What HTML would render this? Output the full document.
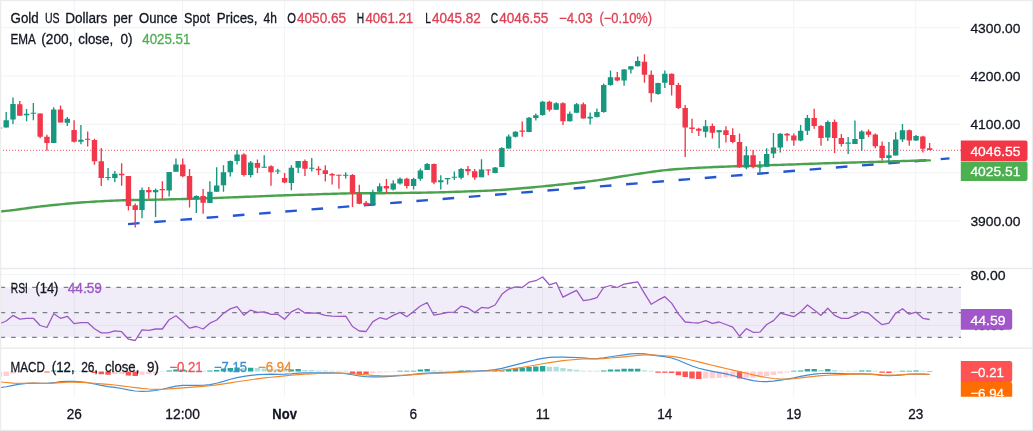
<!DOCTYPE html>
<html lang="en"><head><meta charset="utf-8"><title>Gold 4h chart</title>
<style>html,body{margin:0;padding:0;background:#fff}body{width:1033px;height:431px;overflow:hidden}svg{display:block}text{white-space:pre}</style></head>
<body>
<svg width="1033" height="431" viewBox="0 0 1033 431" font-family='"Liberation Sans", sans-serif'>
<rect x="0" y="0" width="1033" height="431" fill="#ffffff"/>
<path d="M74.3 1V396.5M182.6 1V396.5M284.6 1V396.5M413.4 1V396.5M542.7 1V396.5M664.8 1V396.5M793.7 1V396.5M915.7 1V396.5M1 27.6H960.5M1 76H960.5M1 124.3H960.5M1 172.7H960.5M1 221.1H960.5M1 274.6H960.5M1 325.4H960.5" stroke="#f2f3f6" stroke-width="1" fill="none"/>
<rect x="0" y="287.3" width="961" height="50" fill="#7e57c2" fill-opacity="0.11"/>
<path d="M0.5 287.3H961M0.5 312.6H961M0.5 337.3H961" stroke="#7c7f8a" stroke-width="1.2" stroke-dasharray="4.65 5.88" fill="none"/>
<path d="M0 268.5H1033M0 348.1H1033" stroke="#e8e9ee" stroke-width="1.4" fill="none"/>
<path d="M128 224.1L949.5 158.4" stroke="#2557d2" stroke-width="2.4" stroke-dasharray="11.6 14.7" fill="none"/>
<path d="M0 211.42L3 211.19L6 210.92L9 210.62L12 210.27L15 209.88L18 209.46L21 209.04L24 208.62L27 208.2L30 207.8L33 207.41L36 207.03L39 206.67L42 206.31L45 205.97L48 205.63L51 205.31L54 205L57 204.7L60 204.4L63 204.1L66 203.81L69 203.53L72 203.27L75 203.01L78 202.77L81 202.53L84 202.31L87 202.1L90 201.9L93 201.72L96 201.54L99 201.36L102 201.18L105 201.02L108 200.87L111 200.73L114 200.6L117 200.48L120 200.37L123 200.28L126 200.2L129 200.13L132 200.07L135 200.02L138 199.98L141 199.93L144 199.88L147 199.83L150 199.78L153 199.72L156 199.66L159 199.6L162 199.53L165 199.46L168 199.39L171 199.32L174 199.24L177 199.16L180 199.08L183 199.01L186 198.93L189 198.84L192 198.76L195 198.67L198 198.58L201 198.49L204 198.4L207 198.3L210 198.19L213 198.09L216 197.98L219 197.87L222 197.76L225 197.64L228 197.53L231 197.41L234 197.29L237 197.18L240 197.06L243 196.94L246 196.82L249 196.71L252 196.59L255 196.47L258 196.35L261 196.24L264 196.12L267 196L270 195.88L273 195.77L276 195.65L279 195.54L282 195.43L285 195.32L288 195.22L291 195.11L294 195.01L297 194.91L300 194.81L303 194.72L306 194.62L309 194.53L312 194.44L315 194.34L318 194.25L321 194.16L324 194.06L327 193.97L330 193.88L333 193.78L336 193.69L339 193.61L342 193.53L345 193.46L348 193.4L351 193.35L354 193.31L357 193.29L360 193.26L363 193.25L366 193.25L369 193.25L372 193.25L375 193.24L378 193.23L381 193.22L384 193.19L387 193.17L390 193.13L393 193.1L396 193.05L399 193.01L402 192.96L405 192.92L408 192.87L411 192.82L414 192.78L417 192.73L420 192.68L423 192.64L426 192.59L429 192.53L432 192.47L435 192.41L438 192.34L441 192.26L444 192.18L447 192.09L450 192L453 191.9L456 191.8L459 191.7L462 191.6L465 191.49L468 191.39L471 191.29L474 191.19L477 191.08L480 190.98L483 190.87L486 190.75L489 190.62L492 190.47L495 190.31L498 190.13L501 189.94L504 189.74L507 189.52L510 189.29L513 189.05L516 188.79L519 188.54L522 188.28L525 188.02L528 187.76L531 187.48L534 187.21L537 186.92L540 186.64L543 186.34L546 186.05L549 185.74L552 185.44L555 185.12L558 184.81L561 184.5L564 184.19L567 183.88L570 183.56L573 183.24L576 182.92L579 182.59L582 182.26L585 181.92L588 181.55L591 181.17L594 180.77L597 180.34L600 179.9L603 179.44L606 178.97L609 178.49L612 178L615 177.51L618 177.01L621 176.52L624 176.04L627 175.56L630 175.1L633 174.63L636 174.18L639 173.73L642 173.27L645 172.83L648 172.39L651 171.96L654 171.55L657 171.15L660 170.78L663 170.43L666 170.11L669 169.81L672 169.53L675 169.28L678 169.05L681 168.83L684 168.64L687 168.45L690 168.28L693 168.1L696 167.94L699 167.78L702 167.63L705 167.48L708 167.33L711 167.19L714 167.06L717 166.93L720 166.82L723 166.71L726 166.61L729 166.51L732 166.41L735 166.32L738 166.23L741 166.15L744 166.07L747 165.98L750 165.88L753 165.79L756 165.68L759 165.58L762 165.48L765 165.38L768 165.27L771 165.17L774 165.07L777 164.97L780 164.86L783 164.76L786 164.66L789 164.55L792 164.45L795 164.35L798 164.24L801 164.14L804 164.03L807 163.93L810 163.82L813 163.71L816 163.61L819 163.5L822 163.4L825 163.3L828 163.2L831 163.11L834 163.02L837 162.94L840 162.85L843 162.78L846 162.7L849 162.62L852 162.55L855 162.47L858 162.39L861 162.31L864 162.23L867 162.14L870 162.05L873 161.96L876 161.87L879 161.78L882 161.68L885 161.59L888 161.5L891 161.41L894 161.31L897 161.22L900 161.13L903 161.03L906 160.94L909 160.85L912 160.75L915 160.66L918 160.58L921 160.5L924 160.43L927 160.38L929.9 160.33" stroke="#4aa24e" stroke-width="2.4" fill="none" stroke-linejoin="round" stroke-linecap="round"/>
<path d="M-0.59 127V129M6.2 112V127.4M12.99 97.4V124.1M26.57 108.9V121.2M33.36 103V120.2M53.73 107.2V143M67.31 116.9V126M80.89 125V144.2M108.05 167.9V180.2M114.84 170.9V182.2M142 187.6V218.2M155.58 188.4V216.9M169.16 172V196.4M175.95 158.4V171.8M196.32 195.2V213M209.9 181.3V203M216.69 167.3V191.7M223.48 165.3V191.7M230.27 160.5V176.6M237.06 150.1V164.4M250.64 161V177.6M264.22 155.2V167.7M277.8 168.7V174.1M291.38 165.3V190.3M298.17 160.9V173.1M311.75 157.9V171.6M345.7 172.2V178.6M372.86 189.7V206.3M379.65 183.3V191.7M393.23 180.3V190.4M400.02 177.4V184.6M413.6 177.8V189.5M420.39 168.6V180.7M427.18 163.1V170M440.76 175.2V189.5M447.55 178.1V184.6M454.34 171.5V180.1M461.13 168V179.3M481.5 159.2V177.2M495.08 167V173.3M501.87 147.2V167M508.66 134.5V148.5M515.45 131.2V137.5M529.03 117.1V132.2M535.82 113.4V120.5M542.61 101.1V115.8M556.19 102.2V109.8M569.77 111.4V121.5M576.56 103V112.8M590.14 112.4V124.5M596.93 108.5V117.6M603.72 83.5V112.8M610.51 70.5V85.7M624.09 69.1V85.7M630.88 66.2V73.4M637.67 56.4V66.6M658.04 82.7V94.8M664.83 70.5V88M705.57 120.1V137.4M719.15 130.2V148.3M746.31 146.2V169.2M759.89 160.9V173.7M766.68 148.3V166.7M773.47 133.1V158.1M780.26 133.1V152.6M800.63 125V141.3M807.42 115V135.1M827.79 120.5V140.9M848.16 137V154M854.95 120.5V143.9M861.74 130.2V151.1M888.9 141.9V162.8M895.69 132.2V155.6M902.48 124V141.9M916.06 135.1V140.9" stroke="#17977f" stroke-width="1.35" fill="none"/>
<path d="M19.78 101.1V115.7M40.15 113.4V138.3M46.94 134.8V150.8M60.52 105.6V122.6M74.1 120.2V142.6M87.68 131.5V146.5M94.47 138.7V164.7M101.26 148V186M121.63 163.3V185.7M128.42 175.9V210.4M135.21 203.6V227.4M148.79 187V198.7M162.37 181.2V198.7M182.74 158.4V177.3M189.53 169.1V207.5M203.11 189.1V213.7M243.85 153.3V176.6M257.43 159.5V173.1M271.01 165.3V185.8M284.59 173.1V183.3M304.96 159.5V176.1M318.54 166.3V175.1M325.33 165.3V181.5M332.12 173.1V184.4M338.91 174.7V188.7M352.49 174.1V206.9M359.28 184.8V204.3M366.07 201V205.9M386.44 179V193M406.81 177.8V188.5M433.97 163.5V184.2M467.92 166.1V175.2M474.71 169V179.7M488.29 169.6V175.2M522.24 121.6V136.8M549.4 100.7V111.4M562.98 102.2V125M583.35 102.6V118.6M617.3 72V81.2M644.46 54.3V82.7M651.25 70.5V102.2M671.62 73.4V95.4M678.41 82.7V108.9M685.2 105V156.9M691.99 118.8V133M698.78 127.7V136.1M712.36 123.4V138.6M725.94 126.3V142.5M732.73 128.3V143.3M739.52 133.5V167.8M753.1 150.1V168.2M787.05 133.1V140.9M793.84 133.5V145.8M814.21 108.8V128.8M821 125V145.8M834.58 119.5V153M841.37 134.1V146.4M868.53 129.6V137M875.32 133.5V148.3M882.11 141.5V160.4M909.27 129.6V145.8M922.85 135.7V152.6M929.64 142.9V150.3" stroke="#f0384a" stroke-width="1.35" fill="none"/>
<path d="M-3.29 127.4h5.4V128.6h-5.4zM3.5 120.2h5.4V127.4h-5.4zM10.29 104h5.4V119.6h-5.4zM23.87 113.8h5.4V115.3h-5.4zM30.66 112.8h5.4V113.8h-5.4zM51.03 109.5h5.4V143h-5.4zM64.61 118.8h5.4V122.7h-5.4zM78.19 139.7h5.4V141.7h-5.4zM105.35 176.9h5.4V177.9h-5.4zM112.14 173.8h5.4V177.9h-5.4zM139.3 190h5.4V210h-5.4zM152.88 190h5.4V192.3h-5.4zM166.46 172h5.4V190.5h-5.4zM173.25 164.6h5.4V171.8h-5.4zM193.62 196.1h5.4V199.6h-5.4zM207.2 191.7h5.4V203h-5.4zM213.99 185.4h5.4V191.7h-5.4zM220.78 172.2h5.4V185.2h-5.4zM227.57 161h5.4V172.2h-5.4zM234.36 154.6h5.4V161h-5.4zM247.94 162.4h5.4V175.1h-5.4zM261.52 166.7h5.4V167.7h-5.4zM275.1 170.6h5.4V171.6h-5.4zM288.68 167.7h5.4V182.9h-5.4zM295.47 160.9h5.4V167.7h-5.4zM309.05 167.85h5.4V168.85h-5.4zM343 174.7h5.4V175.7h-5.4zM370.16 192.2h5.4V204.3h-5.4zM376.95 186.2h5.4V191.7h-5.4zM390.53 183.6h5.4V189.5h-5.4zM397.32 178.7h5.4V183.6h-5.4zM410.9 179.1h5.4V185.9h-5.4zM417.69 170.4h5.4V178.7h-5.4zM424.48 164.1h5.4V170h-5.4zM438.06 180.3h5.4V182.2h-5.4zM444.85 178.1h5.4V179.3h-5.4zM451.64 176.8h5.4V177.8h-5.4zM458.43 169h5.4V177.8h-5.4zM478.8 169.6h5.4V177.2h-5.4zM492.38 167.4h5.4V172.9h-5.4zM499.17 148.1h5.4V167h-5.4zM505.96 136.4h5.4V148.5h-5.4zM512.75 131.7h5.4V136.8h-5.4zM526.33 117.8h5.4V132h-5.4zM533.12 115.2h5.4V118.1h-5.4zM539.91 101.7h5.4V114.9h-5.4zM553.49 103.2h5.4V109.8h-5.4zM567.07 113.7h5.4V121.2h-5.4zM573.86 104.2h5.4V112.8h-5.4zM587.44 116.7h5.4V118.6h-5.4zM594.23 112h5.4V116.9h-5.4zM601.02 85.1h5.4V112h-5.4zM607.81 77.3h5.4V85.1h-5.4zM621.39 69.5h5.4V80.6h-5.4zM628.18 66.2h5.4V69.5h-5.4zM634.97 61.1h5.4V66.2h-5.4zM655.34 83.1h5.4V93.9h-5.4zM662.13 73.8h5.4V82.7h-5.4zM702.87 126.3h5.4V131.8h-5.4zM716.45 130.2h5.4V132.2h-5.4zM743.61 155.2h5.4V167.6h-5.4zM757.19 166.5h5.4V167.5h-5.4zM763.98 154h5.4V166.7h-5.4zM770.77 147.4h5.4V153.6h-5.4zM777.56 133.7h5.4V147.4h-5.4zM797.93 130.8h5.4V140.5h-5.4zM804.72 118.1h5.4V130.8h-5.4zM825.09 122h5.4V137.6h-5.4zM845.46 142.5h5.4V143.7h-5.4zM852.25 139h5.4V143.9h-5.4zM859.04 131.6h5.4V139h-5.4zM886.2 155.2h5.4V157.9h-5.4zM892.99 139.4h5.4V155.6h-5.4zM899.78 130.2h5.4V139.4h-5.4zM913.36 136.1h5.4V140.4h-5.4z" fill="#17977f"/>
<path d="M17.08 104.3h5.4V115.7h-5.4zM37.45 113.4h5.4V136.8h-5.4zM44.24 136.8h5.4V143h-5.4zM57.82 109.5h5.4V122.6h-5.4zM71.4 130h5.4V141.7h-5.4zM84.98 138.7h5.4V139.7h-5.4zM91.77 140.1h5.4V161.3h-5.4zM98.56 161.3h5.4V177.9h-5.4zM118.93 173.8h5.4V175.3h-5.4zM125.72 175.9h5.4V206.1h-5.4zM132.51 205.2h5.4V210h-5.4zM146.09 190h5.4V192.3h-5.4zM159.67 189h5.4V190.2h-5.4zM180.04 164.6h5.4V176.3h-5.4zM186.83 175.9h5.4V199.3h-5.4zM200.41 196.1h5.4V202.8h-5.4zM241.15 154.6h5.4V175.1h-5.4zM254.73 163h5.4V167.7h-5.4zM268.31 166.3h5.4V172.2h-5.4zM281.89 178h5.4V182.5h-5.4zM302.26 160.9h5.4V168.8h-5.4zM315.84 168.7h5.4V170.2h-5.4zM322.63 170.2h5.4V174.1h-5.4zM329.42 174.1h5.4V175.5h-5.4zM336.21 174.7h5.4V175.7h-5.4zM349.79 175.1h5.4V193.6h-5.4zM356.58 193.6h5.4V203.7h-5.4zM363.37 202.8h5.4V205.3h-5.4zM383.74 186.1h5.4V188.6h-5.4zM404.11 178.7h5.4V185.9h-5.4zM431.27 164.1h5.4V182.6h-5.4zM465.22 169h5.4V171.3h-5.4zM472.01 171.3h5.4V177.4h-5.4zM485.59 169.55h5.4V170.55h-5.4zM519.54 130.5h5.4V131.7h-5.4zM546.7 101.7h5.4V109.8h-5.4zM560.28 103.2h5.4V121.2h-5.4zM580.65 104.2h5.4V118.6h-5.4zM614.6 77.3h5.4V80.6h-5.4zM641.76 61.7h5.4V74.8h-5.4zM648.55 74.8h5.4V93.3h-5.4zM668.92 73.8h5.4V85.1h-5.4zM675.71 85.1h5.4V108.1h-5.4zM682.5 108.1h5.4V127.4h-5.4zM689.29 127.5h5.4V129h-5.4zM696.08 128.8h5.4V130.8h-5.4zM709.66 125.9h5.4V132.7h-5.4zM723.24 130.2h5.4V135.1h-5.4zM730.03 135.1h5.4V141.9h-5.4zM736.82 141.9h5.4V167.3h-5.4zM750.4 155.2h5.4V167.3h-5.4zM784.35 133.7h5.4V135.5h-5.4zM791.14 135.5h5.4V140.4h-5.4zM811.51 118.1h5.4V125.9h-5.4zM818.3 125.9h5.4V138h-5.4zM831.88 122h5.4V138h-5.4zM838.67 138h5.4V143.9h-5.4zM865.83 131.6h5.4V134.7h-5.4zM872.62 134.5h5.4V146.2h-5.4zM879.41 145.8h5.4V157.9h-5.4zM906.57 130.2h5.4V140.4h-5.4zM920.15 136.5h5.4V148.7h-5.4zM926.94 148.3h5.4V150.1h-5.4z" fill="#f0384a"/>
<path d="M0 150.3H961" stroke="#f0384a" stroke-width="1" stroke-dasharray="1 2" fill="none" opacity="0.85"/>
<path d="M-0.59 323.9L6.2 321L12.99 315.4L19.78 319.1L26.57 318.3L33.36 318.3L40.15 325.5L46.94 327.5L53.73 313.8L60.52 318.3L67.31 316.3L74.1 323.6L80.89 322.6L87.68 322.6L94.47 328.8L101.26 332.9L108.05 332.9L114.84 330.8L121.63 331.7L128.42 339.2L135.21 340.5L142 329.8L148.79 330.4L155.58 329L162.37 329L169.16 319.7L175.95 315.8L182.74 321.6L189.53 328.2L196.32 326.5L203.11 329L209.9 323.2L216.69 320L223.48 313.2L230.27 308.9L237.06 306.6L243.85 315.2L250.64 310.1L257.43 312.4L264.22 311.9L271.01 314.4L277.8 314.2L284.59 319.3L291.38 311.9L298.17 308.5L304.96 313L311.75 312.8L318.54 313.4L325.33 315.4L332.12 316.1L338.91 316.3L345.7 316.1L352.49 326.5L359.28 331L366.07 331.5L372.86 321.6L379.65 317.7L386.44 319.3L393.23 315.4L400.02 312.4L406.81 316.7L413.6 311.5L420.39 306L427.18 302.7L433.97 315.2L440.76 313.8L447.55 312.4L454.34 312.1L461.13 306.2L467.92 308L474.71 312.6L481.5 307.4L488.29 308.2L495.08 305L501.87 294.3L508.66 289.1L515.45 286.9L522.24 287.5L529.03 282.2L535.82 280.7L542.61 277L549.4 284.8L556.19 282.6L562.98 297.2L569.77 293.7L576.56 290.4L583.35 300.7L590.14 299.6L596.93 297.6L603.72 287.5L610.51 285.5L617.3 287.5L624.09 284.2L630.88 283L637.67 281.8L644.46 293.3L651.25 304.3L658.04 300.2L664.83 296.7L671.62 303.1L678.41 313.8L685.2 322L691.99 322.6L698.78 323L705.57 320.6L712.36 323.4L719.15 322L725.94 324.5L732.73 327.1L739.52 336.2L746.31 328.6L753.1 332.3L759.89 332.1L766.68 324.5L773.47 320.6L780.26 313.2L787.05 314.8L793.84 316.7L800.63 311.9L807.42 305L814.21 310.1L821 315.4L827.79 308.2L834.58 315.4L841.37 318.3L848.16 318.3L854.95 315.4L861.74 311.7L868.53 313.2L875.32 319.3L882.11 324.7L888.9 323.2L895.69 313.2L902.48 308.7L909.27 314.2L916.06 312.2L922.85 318.3L929.64 319.5" stroke="#9b59c4" stroke-width="1.3" fill="none" stroke-linejoin="round"/>
<path d="M51.03 370.4h5.4V371.4h-5.4zM57.82 370.4h5.4V371.4h-5.4zM64.61 370.4h5.4V371.4h-5.4zM166.46 370.4h5.4V371.4h-5.4zM173.25 369.4h5.4V371.4h-5.4zM180.04 369.4h5.4V371.4h-5.4zM207.2 370.4h5.4V371.4h-5.4zM213.99 369.9h5.4V371.4h-5.4zM220.78 368.4h5.4V371.4h-5.4zM227.57 368.1h5.4V371.4h-5.4zM234.36 367.4h5.4V371.4h-5.4zM247.94 367.7h5.4V371.4h-5.4zM288.68 369.4h5.4V371.4h-5.4zM295.47 369.1h5.4V371.4h-5.4zM397.32 370.7h5.4V371.4h-5.4zM404.11 370.7h5.4V371.4h-5.4zM410.9 370.7h5.4V371.4h-5.4zM417.69 369.4h5.4V371.4h-5.4zM424.48 368.9h5.4V371.4h-5.4zM458.43 370.4h5.4V371.4h-5.4zM465.22 370.4h5.4V371.4h-5.4zM492.38 370.8h5.4V371.4h-5.4zM499.17 370.4h5.4V371.4h-5.4zM505.96 368.9h5.4V371.4h-5.4zM512.75 368.1h5.4V371.4h-5.4zM519.54 367.7h5.4V371.4h-5.4zM526.33 367.1h5.4V371.4h-5.4zM533.12 366.4h5.4V371.4h-5.4zM539.91 365.9h5.4V371.4h-5.4zM601.02 370.6h5.4V371.4h-5.4zM607.81 369.6h5.4V371.4h-5.4zM614.6 369.6h5.4V371.4h-5.4zM621.39 368.7h5.4V371.4h-5.4zM628.18 368.7h5.4V371.4h-5.4zM634.97 368.7h5.4V371.4h-5.4zM791.14 370.8h5.4V371.4h-5.4zM797.93 370.6h5.4V371.4h-5.4zM804.72 369h5.4V371.4h-5.4zM811.51 369h5.4V371.4h-5.4zM825.09 368.9h5.4V371.4h-5.4zM859.04 370.4h5.4V371.4h-5.4zM865.83 370.4h5.4V371.4h-5.4zM899.78 370.7h5.4V371.4h-5.4zM906.57 370.7h5.4V371.4h-5.4zM913.36 370.6h5.4V371.4h-5.4z" fill="#26a69a"/>
<path d="M71.4 370.8h5.4V371.4h-5.4zM78.19 370.8h5.4V371.4h-5.4zM186.83 370.4h5.4V371.4h-5.4zM193.62 370.8h5.4V371.4h-5.4zM200.41 370.8h5.4V371.4h-5.4zM241.15 367.9h5.4V371.4h-5.4zM254.73 368.1h5.4V371.4h-5.4zM261.52 368.4h5.4V371.4h-5.4zM268.31 368.9h5.4V371.4h-5.4zM275.1 369.1h5.4V371.4h-5.4zM281.89 369.6h5.4V371.4h-5.4zM302.26 369.9h5.4V371.4h-5.4zM309.05 370.1h5.4V371.4h-5.4zM315.84 370.4h5.4V371.4h-5.4zM322.63 370.6h5.4V371.4h-5.4zM329.42 370.8h5.4V371.4h-5.4zM336.21 370.8h5.4V371.4h-5.4zM343 370.8h5.4V371.4h-5.4zM431.27 370.4h5.4V371.4h-5.4zM438.06 370.6h5.4V371.4h-5.4zM444.85 370.8h5.4V371.4h-5.4zM451.64 370.8h5.4V371.4h-5.4zM472.01 370.8h5.4V371.4h-5.4zM478.8 370.8h5.4V371.4h-5.4zM485.59 370.8h5.4V371.4h-5.4zM546.7 366.7h5.4V371.4h-5.4zM553.49 366.7h5.4V371.4h-5.4zM560.28 367.9h5.4V371.4h-5.4zM567.07 368.9h5.4V371.4h-5.4zM573.86 369.7h5.4V371.4h-5.4zM580.65 370.7h5.4V371.4h-5.4zM587.44 370.8h5.4V371.4h-5.4zM594.23 370.8h5.4V371.4h-5.4zM641.76 370.2h5.4V371.4h-5.4zM648.55 370.8h5.4V371.4h-5.4zM818.3 370.1h5.4V371.4h-5.4zM831.88 370.1h5.4V371.4h-5.4zM838.67 370.7h5.4V371.4h-5.4zM845.46 370.8h5.4V371.4h-5.4zM852.25 370.8h5.4V371.4h-5.4zM872.62 370.8h5.4V371.4h-5.4zM920.15 370.8h5.4V371.4h-5.4z" fill="#b2dfdb"/>
<path d="M-3.29 371.4h5.4V376.7h-5.4zM3.5 371.4h5.4V375.9h-5.4zM10.29 371.4h5.4V373.4h-5.4zM17.08 371.4h5.4V372.4h-5.4zM23.87 371.4h5.4V372h-5.4zM30.66 371.4h5.4V372h-5.4zM112.14 371.4h5.4V373.9h-5.4zM118.93 371.4h5.4V373.9h-5.4zM139.3 371.4h5.4V374.7h-5.4zM146.09 371.4h5.4V373.9h-5.4zM152.88 371.4h5.4V373.4h-5.4zM159.67 371.4h5.4V372.1h-5.4zM370.16 371.4h5.4V372.9h-5.4zM376.95 371.4h5.4V372.4h-5.4zM383.74 371.4h5.4V372.2h-5.4zM390.53 371.4h5.4V372.1h-5.4zM702.87 371.4h5.4V378.4h-5.4zM709.66 371.4h5.4V378.2h-5.4zM716.45 371.4h5.4V377.9h-5.4zM723.24 371.4h5.4V377.2h-5.4zM730.03 371.4h5.4V377.2h-5.4zM743.61 371.4h5.4V377.7h-5.4zM750.4 371.4h5.4V377.7h-5.4zM757.19 371.4h5.4V376.9h-5.4zM763.98 371.4h5.4V376.1h-5.4zM770.77 371.4h5.4V375.1h-5.4zM777.56 371.4h5.4V373.6h-5.4zM784.35 371.4h5.4V372.4h-5.4zM892.99 371.4h5.4V372.2h-5.4z" fill="#ffcdd2"/>
<path d="M37.45 371.4h5.4V372h-5.4zM44.24 371.4h5.4V372.4h-5.4zM84.98 371.4h5.4V372h-5.4zM91.77 371.4h5.4V372.9h-5.4zM98.56 371.4h5.4V374.2h-5.4zM105.35 371.4h5.4V374.7h-5.4zM125.72 371.4h5.4V375.4h-5.4zM132.51 371.4h5.4V375.9h-5.4zM349.79 371.4h5.4V373.9h-5.4zM356.58 371.4h5.4V373.9h-5.4zM363.37 371.4h5.4V373.9h-5.4zM655.34 371.4h5.4V372.7h-5.4zM662.13 371.4h5.4V372.7h-5.4zM668.92 371.4h5.4V373h-5.4zM675.71 371.4h5.4V375.2h-5.4zM682.5 371.4h5.4V376.9h-5.4zM689.29 371.4h5.4V378.6h-5.4zM696.08 371.4h5.4V378.9h-5.4zM736.82 371.4h5.4V378.4h-5.4zM879.41 371.4h5.4V372.7h-5.4zM886.2 371.4h5.4V372.9h-5.4zM926.94 371.4h5.4V372.1h-5.4z" fill="#ff5252"/>
<path d="M-0.59 387.69L6.2 386.72L12.99 385.46L19.78 384.21L26.57 383.35L33.36 383.07L40.15 383.32L46.94 383.3L53.73 382.72L60.52 381.65L67.31 381.36L74.1 381.44L80.89 381.89L87.68 382.72L94.47 383.99L101.26 385.43L108.05 386.57L114.84 387.35L121.63 388.5L128.42 389.89L135.21 391.01L142 391.36L148.79 391.08L155.58 390.48L162.37 389.28L169.16 387.65L175.95 386.18L182.74 385.46L189.53 385.32L196.32 385.45L203.11 385.23L209.9 384.67L216.69 383.24L223.48 381.38L230.27 379.25L237.06 377.62L243.85 376.35L250.64 375.43L257.43 374.71L264.22 374.34L271.01 374.19L277.8 374.35L284.59 374.17L291.38 373.8L298.17 373.2L304.96 372.93L311.75 372.83L318.54 372.83L325.33 372.85L332.12 372.89L338.91 373L345.7 373.64L352.49 374.72L359.28 375.97L366.07 376.73L372.86 376.96L379.65 376.88L386.44 376.6L393.23 376.25L400.02 375.75L406.81 375.15L413.6 374.35L420.39 373.61L427.18 373.06L433.97 372.79L440.76 372.6L447.55 372.34L454.34 372.03L461.13 371.69L467.92 371.35L474.71 371.03L481.5 370.74L488.29 370.44L495.08 369.64L501.87 368.33L508.66 366.56L515.45 364.82L522.24 363.11L529.03 361.41L535.82 359.71L542.61 358.33L549.4 357.36L556.19 357.17L562.98 357.2L569.77 357.32L576.56 357.48L583.35 357.91L590.14 358.56L596.93 358.53L603.72 357.85L610.51 356.73L617.3 355.75L624.09 354.84L630.88 353.93L637.67 353.51L644.46 353.87L651.25 354.83L658.04 355.81L664.83 356.69L671.62 358.03L678.41 360.3L685.2 363.22L691.99 366L698.78 368.23L705.57 369.91L712.36 371.33L719.15 372.6L725.94 373.88L732.73 375.52L739.52 377.27L746.31 379.12L753.1 380.59L759.89 381.52L766.68 381.7L773.47 381.13L780.26 380.18L787.05 379.07L793.84 377.84L800.63 376.45L807.42 375.14L814.21 374.14L821 373.51L827.79 373.28L834.58 373.35L841.37 373.7L848.16 373.93L854.95 373.97L861.74 373.9L868.53 374.07L875.32 374.53L882.11 375.3L888.9 375.61L895.69 375.47L902.48 374.84L909.27 374.26L916.06 374.04L922.85 374.17L929.64 374.49" stroke="#3d8fd6" stroke-width="1.2" fill="none" stroke-linejoin="round"/>
<path d="M-0.59 381.94L6.2 382.5L12.99 383.16L19.78 383.41L26.57 383.24L33.36 383.14L40.15 383.33L46.94 383.45L53.73 383.19L60.52 382.59L67.31 382.26L74.1 382.19L80.89 382.38L87.68 382.75L94.47 383.27L101.26 383.87L108.05 384.4L114.84 385L121.63 385.79L128.42 386.74L135.21 387.64L142 388.45L148.79 389L155.58 389.29L162.37 389.25L169.16 388.94L175.95 388.45L182.74 387.85L189.53 387.31L196.32 386.8L203.11 386.32L209.9 385.66L216.69 384.83L223.48 383.81L230.27 382.79L237.06 381.77L243.85 380.76L250.64 379.74L257.43 378.79L264.22 377.95L271.01 377.23L277.8 376.55L284.59 375.87L291.38 375.24L298.17 374.68L304.96 374.2L311.75 373.78L318.54 373.5L325.33 373.32L332.12 373.23L338.91 373.14L345.7 373.31L352.49 373.75L359.28 374.38L366.07 374.95L372.86 375.42L379.65 375.71L386.44 375.83L393.23 375.72L400.02 375.44L406.81 375.01L413.6 374.57L420.39 374.14L427.18 373.77L433.97 373.45L440.76 373.16L447.55 372.86L454.34 372.53L461.13 372.19L467.92 371.85L474.71 371.53L481.5 371.24L488.29 371.01L495.08 370.65L501.87 370.09L508.66 369.26L515.45 368.32L522.24 367.33L529.03 366.22L535.82 365L542.61 363.75L549.4 362.55L556.19 361.55L562.98 360.71L569.77 360.02L576.56 359.34L583.35 358.98L590.14 358.91L596.93 358.87L603.72 358.55L610.51 357.99L617.3 357.44L624.09 356.84L630.88 356.16L637.67 355.42L644.46 354.96L651.25 354.91L658.04 355.24L664.83 355.73L671.62 356.43L678.41 357.42L685.2 358.74L691.99 360.24L698.78 361.86L705.57 363.56L712.36 365.26L719.15 366.93L725.94 368.53L732.73 370.07L739.52 371.62L746.31 373.25L753.1 374.86L759.89 376.29L766.68 377.53L773.47 378.49L780.26 379.13L787.05 379.17L793.84 378.75L800.63 377.93L807.42 377.06L814.21 376.28L821 375.68L827.79 375.27L834.58 374.95L841.37 374.7L848.16 374.47L854.95 374.27L861.74 374.07L868.53 374.08L875.32 374.36L882.11 374.87L888.9 375.11L895.69 375L902.48 374.59L909.27 374.2L916.06 374.07L922.85 374.17L929.64 374.38" stroke="#f5872a" stroke-width="1.2" fill="none" stroke-linejoin="round"/>
<text x="970.4" y="32.5" font-size="13.7" fill="#131722" stroke="#131722" stroke-width="0.3" textLength="50" lengthAdjust="spacingAndGlyphs">4300.00</text>
<text x="970.4" y="80.9" font-size="13.7" fill="#131722" stroke="#131722" stroke-width="0.3" textLength="50" lengthAdjust="spacingAndGlyphs">4200.00</text>
<text x="970.4" y="129.2" font-size="13.7" fill="#131722" stroke="#131722" stroke-width="0.3" textLength="50" lengthAdjust="spacingAndGlyphs">4100.00</text>
<text x="970.4" y="226" font-size="13.7" fill="#131722" stroke="#131722" stroke-width="0.3" textLength="50" lengthAdjust="spacingAndGlyphs">3900.00</text>
<text x="970.4" y="279.5" font-size="13.7" fill="#131722" stroke="#131722" stroke-width="0.3" textLength="35.1" lengthAdjust="spacingAndGlyphs">80.00</text>
<text x="970.4" y="330.3" font-size="13.7" fill="#131722" stroke="#131722" stroke-width="0.3" textLength="35.1" lengthAdjust="spacingAndGlyphs">40.00</text>
<path d="M960.8 140.4H1025.3Q1027.5 140.4 1027.5 142.6V158.7Q1027.5 160.9 1025.3 160.9H960.8z" fill="#f23645"/>
<text x="970.4" y="155.6" font-size="13.7" fill="#ffffff" stroke="#ffffff" stroke-width="0.3" textLength="50" lengthAdjust="spacingAndGlyphs">4046.55</text>
<path d="M960.8 161.4H1025.3Q1027.5 161.4 1027.5 163.6V178.8Q1027.5 181 1025.3 181H960.8z" fill="#4caf50"/>
<text x="970.4" y="176.2" font-size="13.7" fill="#ffffff" stroke="#ffffff" stroke-width="0.3" textLength="50" lengthAdjust="spacingAndGlyphs">4025.51</text>
<path d="M960.8 309.1H1010Q1012.2 309.1 1012.2 311.3V327.6Q1012.2 329.8 1010 329.8H960.8z" fill="#a156c9"/>
<text x="970.4" y="324.8" font-size="13.7" fill="#ffffff" stroke="#ffffff" stroke-width="0.3" textLength="35.1" lengthAdjust="spacingAndGlyphs">44.59</text>
<clipPath id="mc"><rect x="955" y="349" width="78" height="47.7"/></clipPath>
<g clip-path="url(#mc)">
<path d="M960.8 382.1H1010Q1012.2 382.1 1012.2 384.3V400.3Q1012.2 402.5 1010 402.5H960.8z" fill="#ff6d00"/>
<text x="970.4" y="398" font-size="13.7" fill="#ffffff" stroke="#ffffff" stroke-width="0.3" textLength="33.5" lengthAdjust="spacingAndGlyphs">−6.94</text>
<path d="M960.8 361H1010Q1012.2 361 1012.2 363.2V379.9Q1012.2 382.1 1010 382.1H960.8z" fill="#ff5252"/>
<text x="970.4" y="376.8" font-size="13.7" fill="#ffffff" stroke="#ffffff" stroke-width="0.3" textLength="33.5" lengthAdjust="spacingAndGlyphs">−0.21</text>
</g>
<text x="10.5" y="23.4" font-size="14" fill="#131722" stroke="#131722" stroke-width="0.3" textLength="28.2" lengthAdjust="spacingAndGlyphs">Gold</text>
<text x="44.9" y="23.4" font-size="14" fill="#131722" stroke="#131722" stroke-width="0.3" textLength="14.6" lengthAdjust="spacingAndGlyphs">US</text>
<text x="65.3" y="23.4" font-size="14" fill="#131722" stroke="#131722" stroke-width="0.3" textLength="42.1" lengthAdjust="spacingAndGlyphs">Dollars</text>
<text x="113.2" y="23.4" font-size="14" fill="#131722" stroke="#131722" stroke-width="0.3" textLength="19.1" lengthAdjust="spacingAndGlyphs">per</text>
<text x="139" y="23.4" font-size="14" fill="#131722" stroke="#131722" stroke-width="0.3" textLength="38.5" lengthAdjust="spacingAndGlyphs">Ounce</text>
<text x="184" y="23.4" font-size="14" fill="#131722" stroke="#131722" stroke-width="0.3" textLength="25.9" lengthAdjust="spacingAndGlyphs">Spot</text>
<text x="216.7" y="23.4" font-size="14" fill="#131722" stroke="#131722" stroke-width="0.3" textLength="40.8" lengthAdjust="spacingAndGlyphs">Prices,</text>
<text x="263.6" y="23.4" font-size="14" fill="#131722" stroke="#131722" stroke-width="0.3" textLength="13.3" lengthAdjust="spacingAndGlyphs">4h</text>
<text x="287.3" y="23.4" font-size="14" fill="#131722" stroke="#131722" stroke-width="0.3" textLength="8.7" lengthAdjust="spacingAndGlyphs">O</text>
<text x="296.9" y="23.4" font-size="14" fill="#de3f53" stroke="#de3f53" stroke-width="0.3" textLength="49.3" lengthAdjust="spacingAndGlyphs">4050.65</text>
<text x="356.8" y="23.4" font-size="14" fill="#131722" stroke="#131722" stroke-width="0.3" textLength="7.4" lengthAdjust="spacingAndGlyphs">H</text>
<text x="365.4" y="23.4" font-size="14" fill="#de3f53" stroke="#de3f53" stroke-width="0.3" textLength="47.8" lengthAdjust="spacingAndGlyphs">4061.21</text>
<text x="425.2" y="23.4" font-size="14" fill="#131722" stroke="#131722" stroke-width="0.3" textLength="5.7" lengthAdjust="spacingAndGlyphs">L</text>
<text x="431.9" y="23.4" font-size="14" fill="#de3f53" stroke="#de3f53" stroke-width="0.3" textLength="48.8" lengthAdjust="spacingAndGlyphs">4045.82</text>
<text x="490.8" y="23.4" font-size="14" fill="#131722" stroke="#131722" stroke-width="0.3" textLength="7.4" lengthAdjust="spacingAndGlyphs">C</text>
<text x="499.2" y="23.4" font-size="14" fill="#de3f53" stroke="#de3f53" stroke-width="0.3" textLength="49.2" lengthAdjust="spacingAndGlyphs">4046.55</text>
<text x="559" y="23.4" font-size="14" fill="#de3f53" stroke="#de3f53" stroke-width="0.3" textLength="33.8" lengthAdjust="spacingAndGlyphs">−4.03</text>
<text x="599.4" y="23.4" font-size="14" fill="#de3f53" stroke="#de3f53" stroke-width="0.3" textLength="52.7" lengthAdjust="spacingAndGlyphs">(−0.10%)</text>
<text x="10.5" y="43.6" font-size="14" fill="#131722" stroke="#131722" stroke-width="0.3" textLength="25.3" lengthAdjust="spacingAndGlyphs">EMA</text>
<text x="41.3" y="43.6" font-size="14" fill="#131722" stroke="#131722" stroke-width="0.3" textLength="31.2" lengthAdjust="spacingAndGlyphs">(200,</text>
<text x="78.3" y="43.6" font-size="14" fill="#131722" stroke="#131722" stroke-width="0.3" textLength="34.9" lengthAdjust="spacingAndGlyphs">close,</text>
<text x="120.4" y="43.6" font-size="14" fill="#131722" stroke="#131722" stroke-width="0.3" textLength="12.1" lengthAdjust="spacingAndGlyphs">0)</text>
<text x="142.3" y="43.6" font-size="14" fill="#4caf50" stroke="#4caf50" stroke-width="0.3" textLength="48" lengthAdjust="spacingAndGlyphs">4025.51</text>
<text x="10.8" y="292.6" font-size="14" fill="#131722" stroke="#131722" stroke-width="0.3" textLength="17.1" lengthAdjust="spacingAndGlyphs">RSI</text>
<text x="35.5" y="292.6" font-size="14" fill="#131722" stroke="#131722" stroke-width="0.3" textLength="22.9" lengthAdjust="spacingAndGlyphs">(14)</text>
<text x="67.7" y="292.6" font-size="14" fill="#9b59c4" stroke="#9b59c4" stroke-width="0.3" textLength="34.3" lengthAdjust="spacingAndGlyphs">44.59</text>
<text x="10.5" y="371.6" font-size="14" fill="#131722" stroke="#131722" stroke-width="0.3" textLength="34.4" lengthAdjust="spacingAndGlyphs">MACD</text>
<text x="51.8" y="371.6" font-size="14" fill="#131722" stroke="#131722" stroke-width="0.3" textLength="22.9" lengthAdjust="spacingAndGlyphs">(12,</text>
<text x="81.2" y="371.6" font-size="14" fill="#131722" stroke="#131722" stroke-width="0.3" textLength="16.7" lengthAdjust="spacingAndGlyphs">26,</text>
<text x="104.9" y="371.6" font-size="14" fill="#131722" stroke="#131722" stroke-width="0.3" textLength="34.4" lengthAdjust="spacingAndGlyphs">close,</text>
<text x="147" y="371.6" font-size="14" fill="#131722" stroke="#131722" stroke-width="0.3" textLength="11.9" lengthAdjust="spacingAndGlyphs">9)</text>
<text x="169.4" y="371.6" font-size="14" fill="#f0525c" stroke="#f0525c" stroke-width="0.3" textLength="33.3" lengthAdjust="spacingAndGlyphs">−0.21</text>
<text x="214" y="371.6" font-size="14" fill="#3d8fd6" stroke="#3d8fd6" stroke-width="0.3" textLength="32.9" lengthAdjust="spacingAndGlyphs">−7.15</text>
<text x="258" y="371.6" font-size="14" fill="#f08a2c" stroke="#f08a2c" stroke-width="0.3" textLength="33.5" lengthAdjust="spacingAndGlyphs">−6.94</text>
<text x="74.3" y="418.9" font-size="14" fill="#131722" stroke="#131722" stroke-width="0.3" text-anchor="middle" textLength="15.1" lengthAdjust="spacingAndGlyphs">26</text>
<text x="182.6" y="418.9" font-size="14" fill="#131722" stroke="#131722" stroke-width="0.3" text-anchor="middle" textLength="34.5" lengthAdjust="spacingAndGlyphs">12:00</text>
<text x="284.6" y="418.9" font-size="14" fill="#131722" stroke="#131722" stroke-width="0.3" text-anchor="middle" font-weight="bold" textLength="24.5" lengthAdjust="spacingAndGlyphs">Nov</text>
<text x="413.4" y="418.9" font-size="14" fill="#131722" stroke="#131722" stroke-width="0.3" text-anchor="middle" textLength="7.6" lengthAdjust="spacingAndGlyphs">6</text>
<text x="542.7" y="418.9" font-size="14" fill="#131722" stroke="#131722" stroke-width="0.3" text-anchor="middle" textLength="14" lengthAdjust="spacingAndGlyphs">11</text>
<text x="664.8" y="418.9" font-size="14" fill="#131722" stroke="#131722" stroke-width="0.3" text-anchor="middle" textLength="15.1" lengthAdjust="spacingAndGlyphs">14</text>
<text x="793.7" y="418.9" font-size="14" fill="#131722" stroke="#131722" stroke-width="0.3" text-anchor="middle" textLength="15.1" lengthAdjust="spacingAndGlyphs">19</text>
<text x="915.7" y="418.9" font-size="14" fill="#131722" stroke="#131722" stroke-width="0.3" text-anchor="middle" textLength="15.1" lengthAdjust="spacingAndGlyphs">23</text>
<path d="M0.5 0.5H1032.5V430.5H0.5z" stroke="#ececec" stroke-width="1.4" fill="none"/>
</svg>
</body></html>
